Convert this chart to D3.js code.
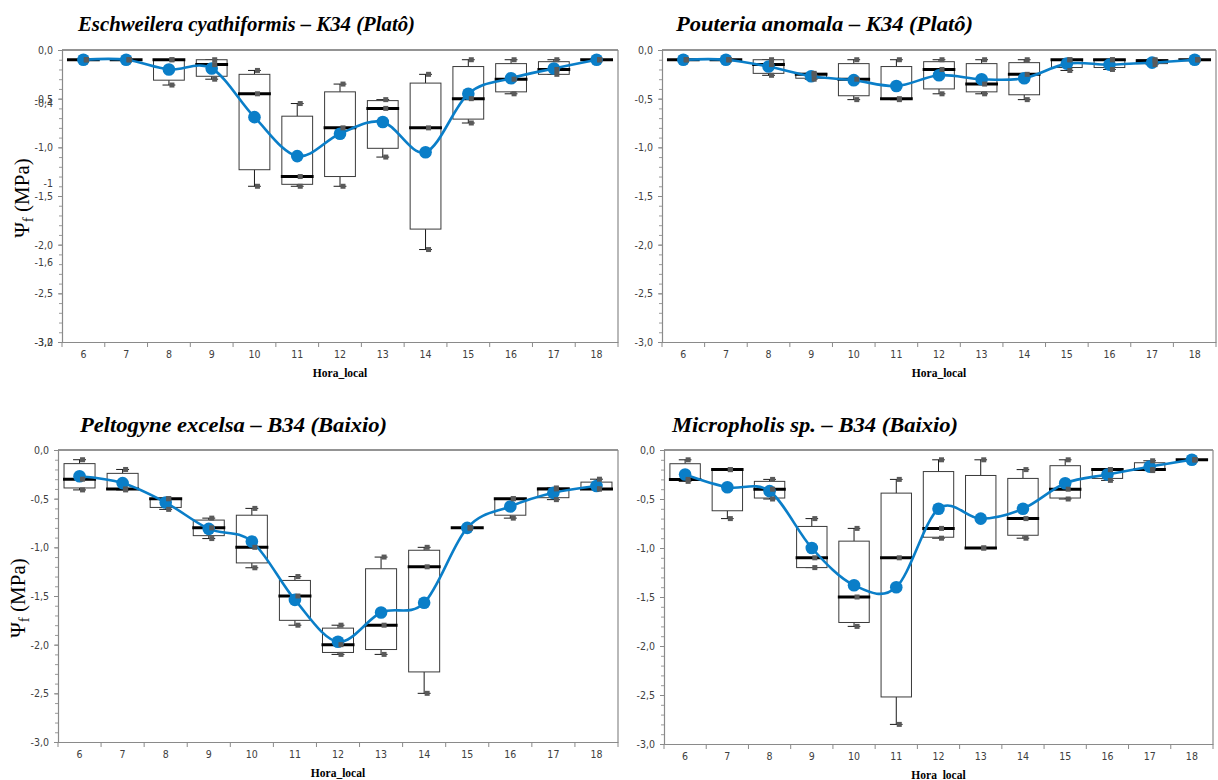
<!DOCTYPE html>
<html>
<head>
<meta charset="utf-8">
<script src="https://cdn.jsdelivr.net/npm/d3@7/dist/d3.min.js"></script>
<style>
  html, body { margin: 0; padding: 0; background: #fff; }
  svg { display: block; }
  .tick text { font-family: "Liberation Sans Narrow", "DejaVu Sans Condensed", "Liberation Sans", sans-serif; font-size: 10.5px; fill: #404040; }
</style>
</head>
<body>
<svg id="chart" width="1218" height="780"></svg>
<script>
// Local hour of each measurement
const hours = [6, 7, 8, 9, 10, 11, 12, 13, 14, 15, 16, 17, 18];

// Leaf water potential axis (MPa)
const yTickValues = [0, -0.5, -1, -1.5, -2, -2.5, -3];
const yTickLabels = ["0,0", "-0,5", "-1,0", "-1,5", "-2,0", "-2,5", "-3,0"];
// Secondary (overlaid) scale labels on the first panel
const altTickValues = [-0.4, -1, -1.6, -3.2];
const altTickLabels = ["-0,4", "-1", "-1,6", "-3,2"];

// Eschweilera cyathiformis – K34 (Platô)
const eschWhiskerTop    = [-0.10, -0.10, -0.10, -0.10, -0.21, -0.55, -0.35, -0.51, -0.25, -0.10, -0.10, -0.10, -0.10];
const eschBoxTop        = [-0.10, -0.10, -0.10, -0.10, -0.25, -0.68, -0.43, -0.52, -0.34, -0.17, -0.14, -0.12, -0.10];
const eschMedian        = [-0.10, -0.10, -0.10, -0.15, -0.45, -1.30, -0.80, -0.60, -0.80, -0.50, -0.30, -0.20, -0.10];
const eschBoxBottom     = [-0.10, -0.10, -0.31, -0.27, -1.23, -1.38, -1.30, -1.01, -1.84, -0.71, -0.43, -0.25, -0.10];
const eschWhiskerBottom = [-0.10, -0.10, -0.36, -0.30, -1.40, -1.40, -1.40, -1.10, -2.05, -0.75, -0.45, -0.25, -0.10];
const eschMean          = [-0.10, -0.10, -0.20, -0.19, -0.69, -1.09, -0.86, -0.74, -1.05, -0.45, -0.29, -0.19, -0.10];

// Pouteria anomala – K34 (Platô)
const poutWhiskerTop    = [-0.10, -0.10, -0.10, -0.24, -0.10, -0.10, -0.10, -0.10, -0.10, -0.10, -0.10, -0.10, -0.10];
const poutBoxTop        = [-0.10, -0.10, -0.10, -0.24, -0.14, -0.17, -0.12, -0.14, -0.13, -0.10, -0.10, -0.10, -0.10];
const poutMedian        = [-0.10, -0.10, -0.15, -0.25, -0.30, -0.50, -0.20, -0.35, -0.25, -0.10, -0.10, -0.11, -0.10];
const poutBoxBottom     = [-0.10, -0.10, -0.24, -0.29, -0.47, -0.50, -0.40, -0.43, -0.46, -0.18, -0.18, -0.14, -0.10];
const poutWhiskerBottom = [-0.10, -0.10, -0.26, -0.30, -0.51, -0.51, -0.45, -0.45, -0.51, -0.21, -0.20, -0.15, -0.10];
const poutMean          = [-0.10, -0.10, -0.17, -0.27, -0.31, -0.37, -0.26, -0.30, -0.29, -0.14, -0.15, -0.13, -0.10];

// Peltogyne excelsa – B34 (Baixio)
const peltWhiskerTop    = [-0.10, -0.20, -0.50, -0.70, -0.60, -1.30, -1.80, -1.10, -1.00, -0.80, -0.50, -0.39, -0.30];
const peltBoxTop        = [-0.14, -0.24, -0.50, -0.72, -0.67, -1.34, -1.83, -1.22, -1.03, -0.80, -0.50, -0.39, -0.33];
const peltMedian        = [-0.30, -0.40, -0.50, -0.80, -1.00, -1.50, -2.00, -1.80, -1.20, -0.80, -0.50, -0.40, -0.40];
const peltBoxBottom     = [-0.39, -0.40, -0.59, -0.88, -1.16, -1.75, -2.08, -2.05, -2.28, -0.80, -0.67, -0.49, -0.40];
const peltWhiskerBottom = [-0.41, -0.41, -0.61, -0.91, -1.21, -1.80, -2.10, -2.10, -2.50, -0.80, -0.70, -0.51, -0.40];
const peltMean          = [-0.27, -0.34, -0.54, -0.81, -0.94, -1.54, -1.97, -1.67, -1.57, -0.80, -0.58, -0.44, -0.37];

// Micropholis sp. – B34 (Baixio)
const micrWhiskerTop    = [-0.10, -0.20, -0.30, -0.70, -0.80, -0.30, -0.10, -0.10, -0.20, -0.10, -0.20, -0.11, -0.10];
const micrBoxTop        = [-0.14, -0.20, -0.32, -0.78, -0.93, -0.44, -0.22, -0.26, -0.29, -0.16, -0.20, -0.13, -0.10];
const micrMedian        = [-0.30, -0.20, -0.40, -1.10, -1.50, -1.10, -0.80, -1.00, -0.70, -0.40, -0.20, -0.20, -0.10];
const micrBoxBottom     = [-0.30, -0.62, -0.49, -1.20, -1.76, -2.52, -0.89, -1.00, -0.87, -0.49, -0.29, -0.20, -0.10];
const micrWhiskerBottom = [-0.32, -0.70, -0.50, -1.20, -1.80, -2.80, -0.90, -1.00, -0.90, -0.50, -0.31, -0.21, -0.10];
const micrMean          = [-0.25, -0.38, -0.42, -1.00, -1.38, -1.40, -0.60, -0.70, -0.60, -0.34, -0.25, -0.17, -0.10];

const panels = [
  { title: "Eschweilera cyathiformis – K34 (Platô)", titleX: 78, titleW: 337, titleY: 31,
    box: { left: 62, right: 618, top: 50, bottom: 342 }, yLabel: true, altAxis: true,
    wt: eschWhiskerTop, bt: eschBoxTop, med: eschMedian, bb: eschBoxBottom, wb: eschWhiskerBottom, mean: eschMean },
  { title: "Pouteria anomala – K34 (Platô)", titleX: 676, titleW: 297, titleY: 31,
    box: { left: 662, right: 1216, top: 50, bottom: 342 }, yLabel: false, altAxis: false,
    wt: poutWhiskerTop, bt: poutBoxTop, med: poutMedian, bb: poutBoxBottom, wb: poutWhiskerBottom, mean: poutMean },
  { title: "Peltogyne excelsa – B34 (Baixio)", titleX: 80, titleW: 307, titleY: 432,
    box: { left: 58, right: 618, top: 450, bottom: 742 }, yLabel: true, altAxis: false,
    wt: peltWhiskerTop, bt: peltBoxTop, med: peltMedian, bb: peltBoxBottom, wb: peltWhiskerBottom, mean: peltMean },
  { title: "Micropholis sp. – B34 (Baixio)", titleX: 672, titleW: 286, titleY: 432,
    box: { left: 664, right: 1213, top: 450, bottom: 744 }, yLabel: false, altAxis: false,
    wt: micrWhiskerTop, bt: micrBoxTop, med: micrMedian, bb: micrBoxBottom, wb: micrWhiskerBottom, mean: micrMean }
];

const BLUE = "#0a7ec8";
const svg = d3.select("#chart");

panels.forEach(p => {
  const { left, right, top, bottom } = p.box;
  const g = svg.append("g");

  const x = d3.scaleBand().domain(hours).range([left, right]).padding(0);
  const y = d3.scaleLinear().domain([0, -3]).range([top, bottom]);
  const bw = x.bandwidth();
  const cx = h => x(h) + bw / 2;

  // Title
  g.append("text")
    .attr("x", p.titleX).attr("y", p.titleY)
    .attr("textLength", p.titleW).attr("lengthAdjust", "spacingAndGlyphs")
    .style("font-family", "'Liberation Serif', 'Times New Roman', serif")
    .style("font-weight", "bold").style("font-style", "italic")
    .style("font-size", "22px").style("fill", "#000")
    .text(p.title);

  // Plot frame: top and right borders
  g.append("line").attr("x1", left).attr("x2", right).attr("y1", top).attr("y2", top)
    .attr("stroke", "#2a2a2a").attr("stroke-width", 1.2);
  g.append("line").attr("x1", right).attr("x2", right).attr("y1", top).attr("y2", bottom)
    .attr("stroke", "#8a8a8a").attr("stroke-width", 1.2);

  // Minor y ticks every 0.1 MPa
  const minor = d3.range(0, 31).map(i => -i / 10);
  g.append("g").attr("transform", `translate(${left},0)`)
    .call(d3.axisLeft(y).tickValues(minor).tickSize(3).tickFormat(""))
    .call(s => s.select(".domain").remove())
    .call(s => s.selectAll("line").attr("stroke", "#9a9a9a"));

  // Major y axis
  g.append("g").attr("transform", `translate(${left},0)`)
    .call(d3.axisLeft(y).tickValues(yTickValues).tickSize(4).tickPadding(5)
      .tickFormat((d, i) => yTickLabels[i]))
    .call(s => s.select(".domain").attr("stroke", "#8a8a8a").attr("stroke-width", 1.2))
    .call(s => s.selectAll(".tick line").attr("stroke", "#8a8a8a"));

  // Overlaid secondary scale on the first panel
  if (p.altAxis) {
    const yAlt = d3.scaleLinear().domain([0, -2.2]).range([top, bottom]).clamp(true);
    g.append("g").attr("transform", `translate(${left},0)`)
      .call(d3.axisLeft(yAlt).tickValues(altTickValues).tickSize(0).tickPadding(9)
        .tickFormat((d, i) => altTickLabels[i]))
      .call(s => s.select(".domain").remove());
  }

  // X axis: labels at the centre of each hour, ticks on the band edges
  const xa = g.append("g").attr("transform", `translate(0,${bottom})`)
    .call(d3.axisBottom(x).tickSize(0).tickPadding(9).tickSizeOuter(0))
    .call(s => s.select(".domain").attr("stroke", "#8a8a8a").attr("stroke-width", 1.2));
  const edges = hours.map(h => x(h)).concat([x(hours[hours.length - 1]) + bw]);
  xa.selectAll(".edge").data(edges).join("line").attr("class", "edge")
    .attr("x1", d => d).attr("x2", d => d).attr("y1", 0).attr("y2", 5)
    .attr("stroke", "#8a8a8a");

  // X axis title
  g.append("text")
    .attr("x", (left + right) / 2).attr("y", bottom + 35)
    .attr("text-anchor", "middle")
    .style("font-family", "'Liberation Serif', 'Times New Roman', serif")
    .style("font-weight", "bold").style("font-size", "11.5px")
    .text("Hora_local");

  // Y axis title
  if (p.yLabel) {
    const yl = g.append("text")
      .attr("transform", `translate(${left - 33},${(top + bottom) / 2 + 2}) rotate(-90)`)
      .attr("text-anchor", "middle")
      .style("font-family", "'Liberation Serif', 'Times New Roman', serif")
      .style("font-size", "21px").style("fill", "#000");
    yl.append("tspan").text("Ψ");
    yl.append("tspan").attr("dy", 4).style("font-size", "15px").text("f");
    yl.append("tspan").attr("dy", -4).text(" (MPa)");
  }

  const rows = hours.map((h, i) => ({
    h, wt: p.wt[i], bt: p.bt[i], med: p.med[i], bb: p.bb[i], wb: p.wb[i], mean: p.mean[i]
  }));

  const boxW = bw * 0.72;
  const capW = bw * 0.3;

  // Whiskers
  g.selectAll(".wup").data(rows).join("line")
    .attr("x1", d => cx(d.h)).attr("x2", d => cx(d.h))
    .attr("y1", d => y(d.wt)).attr("y2", d => y(d.bt))
    .attr("stroke", "#1a1a1a").attr("stroke-width", 1);
  g.selectAll(".wdn").data(rows).join("line")
    .attr("x1", d => cx(d.h)).attr("x2", d => cx(d.h))
    .attr("y1", d => y(d.bb)).attr("y2", d => y(d.wb))
    .attr("stroke", "#1a1a1a").attr("stroke-width", 1);
  ["wt", "wb"].forEach(k => {
    g.selectAll(".cap-" + k).data(rows).join("line")
      .attr("x1", d => cx(d.h) - capW / 2).attr("x2", d => cx(d.h) + capW / 2)
      .attr("y1", d => y(d[k])).attr("y2", d => y(d[k]))
      .attr("stroke", "#1a1a1a").attr("stroke-width", 1);
  });

  // Boxes
  g.selectAll(".bx").data(rows).join("rect")
    .attr("x", d => cx(d.h) - boxW / 2).attr("width", boxW)
    .attr("y", d => y(d.bt)).attr("height", d => Math.max(0, y(d.bb) - y(d.bt)))
    .attr("fill", "#fff").attr("stroke", "#3a3a3a").attr("stroke-width", 1);

  // Medians
  g.selectAll(".md").data(rows).join("line")
    .attr("x1", d => cx(d.h) - boxW / 2 - 1).attr("x2", d => cx(d.h) + boxW / 2 + 1)
    .attr("y1", d => y(d.med)).attr("y2", d => y(d.med))
    .attr("stroke", "#000").attr("stroke-width", 3);

  // Mean, smoothed line and markers
  const line = d3.line().x(d => cx(d.h)).y(d => y(d.mean)).curve(d3.curveCardinal.tension(0));
  g.append("path").datum(rows).attr("d", line)
    .attr("fill", "none").attr("stroke", BLUE).attr("stroke-width", 2.6);
  g.selectAll(".mn").data(rows).join("circle")
    .attr("cx", d => cx(d.h)).attr("cy", d => y(d.mean)).attr("r", 6.3)
    .attr("fill", BLUE);

  // Observation markers at whisker ends and median
  const pts = rows.flatMap(d => [{ h: d.h, v: d.wt }, { h: d.h, v: d.med }, { h: d.h, v: d.wb }]);
  g.selectAll(".pt").data(pts).join("rect")
    .attr("x", d => cx(d.h) + 3 - 2.5).attr("y", d => y(d.v) - 2.5)
    .attr("width", 5).attr("height", 5)
    .attr("fill", "#5a5a5a");
});
</script>
</body>
</html>
